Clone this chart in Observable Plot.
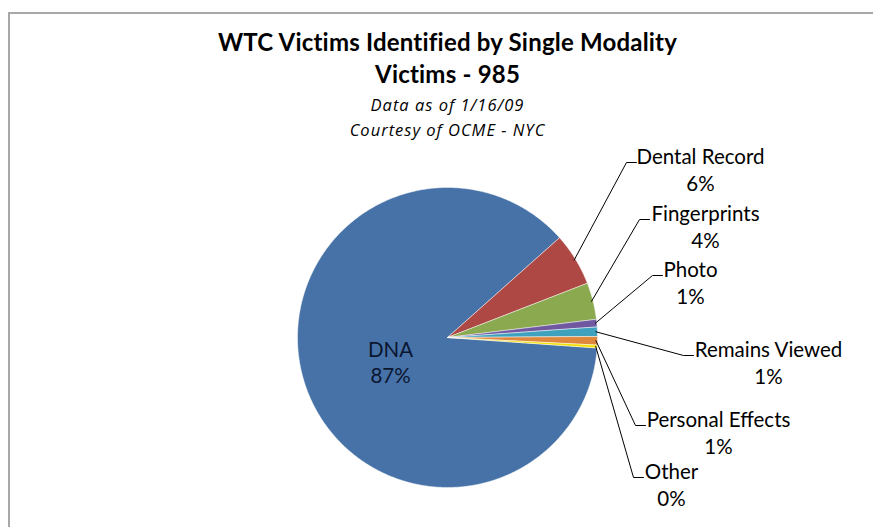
<!DOCTYPE html>
<html><head><meta charset="utf-8">
<script src="https://cdn.jsdelivr.net/npm/d3@7"></script>
<script src="https://cdn.jsdelivr.net/npm/@observablehq/plot@0.6"></script>
<style>
body{margin:0;background:#fff;}
#wrap{position:relative;width:873px;height:527px;overflow:hidden;background:#fff;}
#wrap svg{position:absolute;left:0;top:0;}
#frame{position:absolute;left:8px;top:12px;width:900px;height:600px;border-left:2px solid #a8a8a8;border-top:2px solid #a8a8a8;pointer-events:none;}
.ttl text{letter-spacing:0.2px;}
.sub text{letter-spacing:1px;}
</style></head><body><div id="wrap"></div>
<script>
// ---- data ----
const categories = ["DNA","Dental Record","Fingerprints","Photo","Remains Viewed","Personal Effects","Other"];
const victims = [860, 56, 39, 8, 10, 9, 3];
const percentLabels = ["87%","6%","4%","1%","1%","1%","0%"];
const colors = ["#4672a8","#ad4844","#8ba94f","#6f58a0","#3fa1bd","#de873d","#f2de00"];
const titleLines = ["WTC Victims Identified by Single Modality","Victims - 985"];
const subtitleLines = ["Data as of 1/16/09","Courtesy of OCME - NYC"];

// ---- layout (pixels) ----
const CX = 447, CY = 337, R = 150;
const START = 94 * Math.PI / 180; // first slice angle, clockwise from 12 o'clock
const FONT = "Lato, 'Open Sans', sans-serif";
const SUBFONT = "'Open Sans', Lato, sans-serif";
// label placement: leader tick y, tick end x (text left), text block centre x
const labelLayout = {
  "Dental Record":    {ty: 162, tx: 636, cx: 700},
  "Fingerprints":     {ty: 219, tx: 649, cx: 705},
  "Photo":            {ty: 275, tx: 662, cx: 690},
  "Remains Viewed":   {ty: 355, tx: 693, cx: 768},
  "Personal Effects": {ty: 425, tx: 645, cx: 718},
  "Other":            {ty: 477, tx: 643, cx: 671}
};
const dnaLabel = {cx: 390, cy: 361};
const titleY = [43, 75], subtitleY = [105, 130];

const ux = px => (px - CX) / R;
const uy = py => (CY - py) / R;

const rows = categories.map((name, i) => ({name, value: victims[i], pct: percentLabels[i]}));
const arcs = d3.pie().sort(null).value(d => d.value)
  .startAngle(START).endAngle(START + 2 * Math.PI)(rows);

const piePts = arcs.flatMap(a => {
  const name = a.data.name;
  const n = Math.max(2, Math.ceil((a.endAngle - a.startAngle) / (Math.PI / 360)));
  const pts = [{name, x: 0, y: 0}];
  for (let i = 0; i <= n; i++) {
    const t = a.startAngle + (a.endAngle - a.startAngle) * i / n;
    pts.push({name, x: Math.sin(t), y: Math.cos(t)});
  }
  pts.push({name, x: 0, y: 0});
  return pts;
});

const leaders = arcs.filter(a => labelLayout[a.data.name]).flatMap(a => {
  const L = labelLayout[a.data.name];
  const m = (a.startAngle + a.endAngle) / 2;
  return [
    {name: a.data.name, x: 0.99 * Math.sin(m), y: 0.99 * Math.cos(m)},
    {name: a.data.name, x: ux(L.tx - 10), y: uy(L.ty)},
    {name: a.data.name, x: ux(L.tx), y: uy(L.ty)}
  ];
});

const outLabels = rows.filter(r => labelLayout[r.name]).map(r => {
  const L = labelLayout[r.name];
  return {text: r.name + "\n" + r.pct, x: ux(L.cx), y: uy(L.ty + 6.75)};
});
const inLabels = rows.filter(r => !labelLayout[r.name]).map(r => ({text: r.name + "\n" + r.pct, x: ux(dnaLabel.cx), y: uy(dnaLabel.cy)}));

const chart = Plot.plot({
  width: 873, height: 527, margin: 0,
  x: {domain: [-1, 1], range: [CX - R, CX + R], axis: null},
  y: {domain: [-1, 1], range: [CY + R, CY - R], axis: null},
  color: {domain: categories, range: colors},
  style: {background: "transparent", overflow: "visible"},
  marks: [
    Plot.line(piePts, {x: "x", y: "y", z: "name", fill: "name", stroke: "#ffffff", strokeWidth: 0.8, strokeOpacity: 0.6}),
    Plot.line(leaders, {x: "x", y: "y", z: "name", stroke: "#000", strokeWidth: 1}),
    Plot.text(outLabels, {x: "x", y: "y", text: "text", lineAnchor: "middle", lineHeight: 1.3, fontSize: 20.5, fontFamily: FONT, fill: "#000"}),
    Plot.text(inLabels, {x: "x", y: "y", text: "text", lineAnchor: "middle", lineHeight: 1.3, fontSize: 20.5, fontFamily: FONT, fill: "#0b1630"}),
    Plot.text(titleLines, {x: () => 0, y: (d, i) => uy(titleY[i]), text: d => d, lineAnchor: "middle", fontSize: 24, fontWeight: "bold", fontFamily: FONT, fill: "#000", className: "ttl"}),
    Plot.text(subtitleLines, {x: () => 0, y: (d, i) => uy(subtitleY[i]), text: d => d, lineAnchor: "middle", fontSize: 16.5, fontStyle: "italic", fontFamily: SUBFONT, fill: "#000", className: "sub"})
  ]
});
const wrap = document.getElementById("wrap");
wrap.appendChild(chart);
const fr = document.createElement("div"); fr.id = "frame"; wrap.appendChild(fr);
</script></body></html>
